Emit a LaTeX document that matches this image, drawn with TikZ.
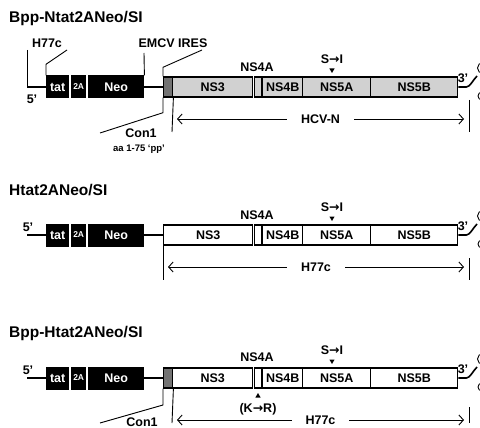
\documentclass[tikz,border=0pt]{standalone}
\usepackage{fontspec}
\setmainfont{Liberation Sans}
\newfontfamily\arrowfont{DejaVu Sans}
\usetikzlibrary{arrows.meta, positioning, shapes.geometric}

\begin{document}
\begin{tikzpicture}[x=1pt, y=-1pt, >={Straight Barb[length=4.5pt,width=10pt]},
    font=\bfseries\fontsize{12.5}{14}\selectfont,
    titre/.style={anchor=west, inner sep=0pt, font=\bfseries\fontsize{15.5}{17}\selectfont},
    blk/.style={fill=black, text=white, minimum height=23, inner sep=0pt, anchor=west},
    ns/.style={draw, line width=1.4pt, minimum height=20, inner sep=0pt, anchor=west},
    lbl/.style={inner sep=0pt},
    brk/.style={line width=0.9pt},
    bb/.style={line width=1.6pt},
    tri/.style={regular polygon, regular polygon sides=3, fill=black, inner sep=0pt, minimum size=6pt},
    span/.style={<->, line width=0.9pt}]
    \useasboundingbox (0,0) rectangle (480,428);

    % Hàng 1: Bpp-Ntat2ANeo/SI
    \node[titre] (t1) at (9,18) {Bpp-Ntat2ANeo/SI};
    \coordinate (a5) at (27,87);
    \node[blk, minimum width=23] (tat1) at (46,87) {tat};
    \node[blk, minimum width=15, font=\bfseries\fontsize{8.5}{9}\selectfont] (tA1) at (71,87) {2A};
    \node[blk, minimum width=56] (neo1) at (88,87) {Neo};
    \node[ns, minimum width=9, fill=black!55] (cn1) at (163,87) {};
    \node[ns, minimum width=80, fill=black!18] (ns3a) at (172,87) {NS3};
    \node[ns, minimum width=7, fill=black!18] (ns4aa) at (254,87) {};
    \node[ns, minimum width=40, fill=black!18] (ns4ba) at (262,87) {NS4B};
    \node[ns, minimum width=68, fill=black!18] (ns5aa) at (302,87) {NS5A};
    \node[ns, minimum width=87, fill=black!18] (ns5ba) at (370,87) {NS5B};
    \draw[bb] (a5) -- (tat1.west);
    \draw[bb] (neo1.east) -- (cn1.west);
    \draw[bb] (ns5ba.east) -- ++(8,0) coordinate (e1) .. controls (470,87) and (473,80) .. (477,76);
    \draw[brk] (483,68) circle (5.5);
    \draw[brk] (482,96) circle (4);
    \node[lbl] (p5a) at (32,99) {5'};
    \node[lbl] (p3a) at (463,78) {3'};
    % nhãn phía trên
    \node[lbl] (h77a) at (47,43) {H77c};
    \node[lbl] (emcv) at (173,43) {EMCV IRES};
    \draw[brk] (27,50) -- (a5);
    \draw[brk] (tat1.north west) -- ++(0,-11) -- (67,50);
    \draw[brk] (neo1.north east) -- (144,53);
    \draw[brk] (cn1.north west) -- ++(0,-9) -- (202,50);
    \node[lbl] (n4a1) at (257,67) {NS4A};
    \node[lbl] (si1) at (332,59) {S{\arrowfont\bfseries →}I};
    \node[tri, shape border rotate=180] (tr1) at (332,70) {};
    % Con1
    \draw[brk] (cn1.south west) -- ++(0,15) -- (100,133);
    \node[lbl] (con1) at (141,133) {Con1};
    \node[lbl, font=\bfseries\fontsize{9.5}{10}\selectfont] (aa1) at (139,149) {aa 1-75 `pp'};
    % HCV-N
    \draw[brk] (cn1.south east) -- (172,132) coordinate (l1);
    \draw[brk] (469,100) -- (469,132) coordinate (r1);
    \draw[span, shorten <=5pt, shorten >=5pt] (172,119) -- node[fill=white, inner xsep=14pt, inner ysep=0pt] (hcvn) {HCV-N} (469,119);

    % Hàng 2: Htat2ANeo/SI
    \node[titre] (t2) at (9,190) {Htat2ANeo/SI};
    \coordinate (b5) at (27,235);
    \node[blk, minimum width=23] (tat2) at (46,235) {tat};
    \node[blk, minimum width=15, font=\bfseries\fontsize{8.5}{9}\selectfont] (tA2) at (71,235) {2A};
    \node[blk, minimum width=56] (neo2) at (88,235) {Neo};
    \node[ns, minimum width=89] (ns3b) at (163,235) {NS3};
    \node[ns, minimum width=7] (ns4ab) at (254,235) {};
    \node[ns, minimum width=40] (ns4bb) at (262,235) {NS4B};
    \node[ns, minimum width=68] (ns5ab) at (302,235) {NS5A};
    \node[ns, minimum width=87] (ns5bb) at (370,235) {NS5B};
    \draw[bb] (b5) -- (tat2.west);
    \draw[bb] (neo2.east) -- (ns3b.west);
    \draw[bb] (ns5bb.east) -- ++(8,0) coordinate (e2) .. controls (470,235) and (473,228) .. (477,224);
    \draw[brk] (483,216) circle (5.5);
    \draw[brk] (482,244) circle (4);
    \node[lbl] (p5b) at (28,227) {5'};
    \node[lbl] (p3b) at (463,226) {3'};
    \node[lbl] (n4a2) at (257,215) {NS4A};
    \node[lbl] (si2) at (332,207) {S{\arrowfont\bfseries →}I};
    \node[tri, shape border rotate=180] (tr2) at (332,218) {};
    \draw[brk] (ns3b.south west) -- (163,280) coordinate (l2);
    \draw[brk] (469,258) -- (469,280) coordinate (r2);
    \draw[span, shorten <=5pt, shorten >=5pt] (163,267) -- node[fill=white, inner xsep=14pt, inner ysep=0pt] (h77b) {H77c} (469,267);

    % Hàng 3: Bpp-Htat2ANeo/SI
    \node[titre] (t3) at (9,333) {Bpp-Htat2ANeo/SI};
    \coordinate (c5) at (27,378);
    \node[blk, minimum width=23] (tat3) at (46,378) {tat};
    \node[blk, minimum width=15, font=\bfseries\fontsize{8.5}{9}\selectfont] (tA3) at (71,378) {2A};
    \node[blk, minimum width=56] (neo3) at (88,378) {Neo};
    \node[ns, minimum width=9, fill=black!55] (cn3) at (163,378) {};
    \node[ns, minimum width=80] (ns3c) at (172,378) {NS3};
    \node[ns, minimum width=7] (ns4ac) at (254,378) {};
    \node[ns, minimum width=40] (ns4bc) at (262,378) {NS4B};
    \node[ns, minimum width=68] (ns5ac) at (302,378) {NS5A};
    \node[ns, minimum width=87] (ns5bc) at (370,378) {NS5B};
    \draw[bb] (c5) -- (tat3.west);
    \draw[bb] (neo3.east) -- (cn3.west);
    \draw[bb] (ns5bc.east) -- ++(8,0) coordinate (e3) .. controls (470,378) and (473,371) .. (477,367);
    \draw[brk] (483,359) circle (5.5);
    \draw[brk] (482,387) circle (4);
    \node[lbl] (p5c) at (28,370) {5'};
    \node[lbl] (p3c) at (463,369) {3'};
    \node[lbl] (n4a3) at (257,357) {NS4A};
    \node[lbl] (si3) at (332,350) {S{\arrowfont\bfseries →}I};
    \node[tri, shape border rotate=180] (tr3) at (332,361) {};
    \node[tri] (tr4) at (258,396) {};
    \node[lbl] (kr) at (258,409) {(K{\arrowfont\bfseries →}R)};
    \draw[brk] (cn3.south west) -- (163,405) -- (100,423);
    \node[lbl] (con3) at (142,422) {Con1};
    \draw[brk] (cn3.south east) -- (172,423) coordinate (l3);
    \draw[brk] (469,407) -- (469,423) coordinate (r3);
    \draw[span, shorten <=5pt, shorten >=5pt] (172,420) -- node[fill=white, inner xsep=14pt, inner ysep=0pt] (h77c) {H77c} (469,420);
\end{tikzpicture}
\end{document}
